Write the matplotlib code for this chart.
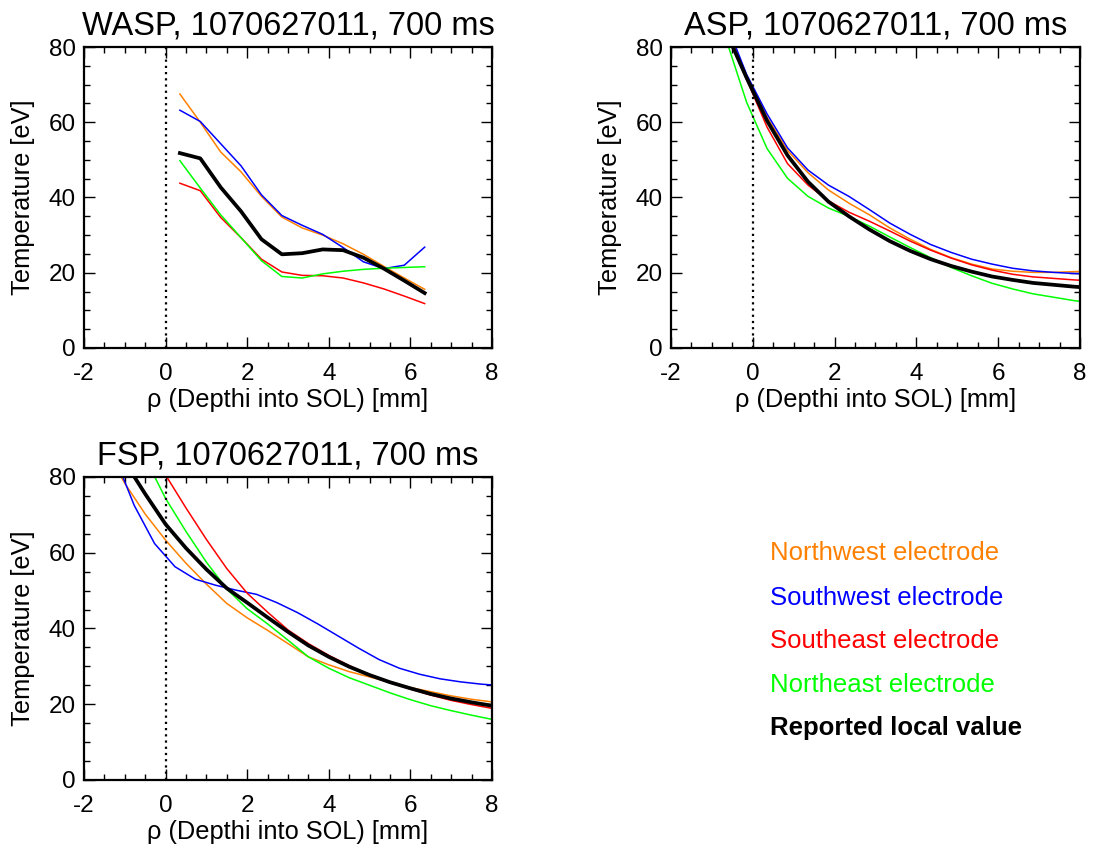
import matplotlib
matplotlib.use('Agg')
import matplotlib.pyplot as plt
from matplotlib.ticker import MultipleLocator

plt.rcParams['font.family'] = ['Liberation Sans', 'DejaVu Sans']
plt.rcParams['axes.unicode_minus'] = False

# WASP probe (shot 1070627011, 700 ms)
wasp_x = [0.35, 0.85, 1.35, 1.85, 2.35, 2.85, 3.35, 3.85, 4.35, 4.85, 5.35, 5.85, 6.35]
wasp_nw = [67.5, 60.0, 52.1, 46.8, 40.3, 34.8, 31.9, 30.0, 27.7, 24.9, 21.7, 18.6, 15.6]
wasp_sw = [63.2, 60.2, 54.3, 48.4, 40.7, 35.2, 32.6, 30.2, 26.7, 22.9, 21.1, 22.0, 26.8]
wasp_se = [43.8, 41.8, 34.7, 29.3, 23.6, 20.2, 19.3, 19.2, 18.6, 17.3, 15.7, 13.8, 11.8]
wasp_ne = [49.8, 42.5, 35.4, 29.3, 23.2, 19.0, 18.6, 19.7, 20.4, 20.9, 21.2, 21.4, 21.6]
wasp_local = [51.8, 50.4, 42.7, 36.3, 28.9, 24.9, 25.2, 26.2, 26.0, 24.0, 21.1, 17.9, 14.6]

# ASP probe
asp_x = [-0.65, -0.15, 0.35, 0.85, 1.35, 1.85, 2.35, 2.85, 3.35, 3.85, 4.35,
         4.85, 5.35, 5.85, 6.35, 6.85, 7.35, 7.85, 8.35]
asp_nw = [86.0, 72.3, 61.3, 52.5, 46.6, 42.0, 38.5, 35.4, 31.9, 28.9, 26.2,
          24.0, 22.3, 21.0, 20.4, 20.1, 20.1, 20.3, 20.4]
asp_sw = [86.5, 72.7, 62.2, 53.2, 47.3, 43.3, 40.3, 36.8, 33.2, 30.2, 27.5,
          25.4, 23.6, 22.3, 21.2, 20.5, 20.1, 19.8, 19.6]
asp_se = [84.5, 71.4, 58.7, 49.0, 43.3, 39.1, 36.1, 33.7, 31.1, 28.4, 26.0,
          23.9, 22.1, 20.7, 19.6, 18.9, 18.5, 18.1, 17.8]
asp_ne = [82.0, 65.3, 53.0, 45.1, 40.3, 37.2, 35.0, 32.4, 29.5, 26.7, 24.0,
          21.4, 19.2, 17.2, 15.7, 14.4, 13.5, 12.6, 11.9]
asp_local = [84.0, 71.8, 60.4, 51.2, 44.2, 38.9, 35.0, 31.5, 28.4, 25.8, 23.6,
             21.8, 20.3, 19.0, 18.1, 17.3, 16.8, 16.3, 15.9]

# FSP probe
fsp_x = [-1.5, -1.0, -0.5, 0.0, 0.5, 1.0, 1.5, 2.0, 2.5, 3.0, 3.5, 4.0, 4.5,
         5.0, 5.5, 6.0, 6.5, 7.0, 7.5, 8.0]
fsp_nw = [88.0, 78.3, 70.2, 63.3, 57.2, 51.7, 46.6, 42.8, 39.5, 36.0, 32.5, 30.4,
          28.6, 27.2, 25.8, 24.4, 23.3, 22.2, 21.3, 20.6]
fsp_se = [110.0, 100.0, 89.0, 80.5, 71.8, 63.5, 55.8, 49.3, 44.3, 39.6, 36.0, 32.9,
          30.2, 27.8, 25.8, 24.0, 22.4, 21.0, 19.9, 18.9]
fsp_ne = [105.0, 95.0, 85.0, 74.3, 65.6, 57.5, 50.4, 45.2, 41.2, 36.9, 32.5, 29.5,
          27.0, 25.0, 23.0, 21.2, 19.6, 18.3, 17.1, 16.0]
fsp_local = [94.0, 84.0, 75.5, 67.5, 61.2, 55.6, 50.6, 46.8, 42.9, 39.1, 35.5, 32.5,
             29.9, 27.7, 25.8, 24.2, 22.7, 21.5, 20.5, 19.6]
fsp_sw_x = [-1.27, -0.77, -0.27, 0.23, 0.73, 1.23, 1.73, 2.23, 2.73, 3.23, 3.73,
            4.23, 4.73, 5.23, 5.73, 6.23, 6.73, 7.23, 7.73, 8.23]
fsp_sw = [86.0, 72.5, 62.4, 56.3, 53.0, 51.4, 50.1, 49.0, 46.8, 44.2, 41.2,
          38.0, 34.8, 31.8, 29.5, 27.9, 26.7, 25.9, 25.3, 24.9]

labels = ['Northwest electrode', 'Southwest electrode', 'Southeast electrode',
          'Northeast electrode', 'Reported local value']
colors = ['#ff8000', '#0000ff', '#ff0000', '#00ff00', 'black']


def panel(ax, title, curves):
    for x, y, c in curves:
        lw = 2.7 if c == 'black' else 1.1
        ax.plot(x, y, color=c, lw=lw, zorder=3 if c == 'black' else 2)
    ax.plot([0, 0], [0, 80], color='black', ls=(0, (1, 1.8)), lw=1.6)
    ax.set_xlim(-2, 8)
    ax.set_ylim(0, 80)
    ax.xaxis.set_major_locator(MultipleLocator(2))
    ax.xaxis.set_minor_locator(MultipleLocator(0.5))
    ax.yaxis.set_major_locator(MultipleLocator(20))
    ax.yaxis.set_minor_locator(MultipleLocator(5))
    ax.tick_params(which='both', direction='in', top=True, right=True,
                   width=1.0, labelsize=17.5)
    ax.tick_params(which='major', length=8)
    ax.tick_params(which='minor', length=4)
    ax.tick_params(axis='x', pad=11)
    ax.tick_params(axis='y', pad=6)
    for s in ax.spines.values():
        s.set_linewidth(1.6)
    ax.set_title(title, fontsize=23.5, pad=9)
    ax.set_xlabel('ρ (Depthi into SOL) [mm]', fontsize=18.3, labelpad=2)
    ax.set_ylabel('Temperature [eV]', fontsize=18.3, labelpad=10)


fig = plt.figure(figsize=(10.94, 8.5), dpi=100)
ax1 = fig.add_axes([0.0768, 0.5906, 0.3729, 0.3541])
ax2 = fig.add_axes([0.6133, 0.5906, 0.3739, 0.3541])
ax3 = fig.add_axes([0.0768, 0.0824, 0.3729, 0.3565])

panel(ax1, 'WASP, 1070627011, 700 ms',
      [(wasp_x, wasp_nw, colors[0]), (wasp_x, wasp_sw, colors[1]),
       (wasp_x, wasp_se, colors[2]), (wasp_x, wasp_ne, colors[3]),
       (wasp_x, wasp_local, colors[4])])
panel(ax2, 'ASP, 1070627011, 700 ms',
      [(asp_x, asp_nw, colors[0]), (asp_x, asp_sw, colors[1]),
       (asp_x, asp_se, colors[2]), (asp_x, asp_ne, colors[3]),
       (asp_x, asp_local, colors[4])])
panel(ax3, 'FSP, 1070627011, 700 ms',
      [(fsp_x, fsp_nw, colors[0]), (fsp_sw_x, fsp_sw, colors[1]),
       (fsp_x, fsp_se, colors[2]), (fsp_x, fsp_ne, colors[3]),
       (fsp_x, fsp_local, colors[4])])

# text legend on the right
leg_y = [553, 598, 641, 685, 728]
for lab, c, yy in zip(labels, colors, leg_y):
    fig.text(770 / 1094, 1 - yy / 850, lab, color=c, fontsize=18.5, va='center',
             ha='left', fontweight='bold' if c == 'black' else 'normal')

fig.savefig('out.png', dpi=100)
